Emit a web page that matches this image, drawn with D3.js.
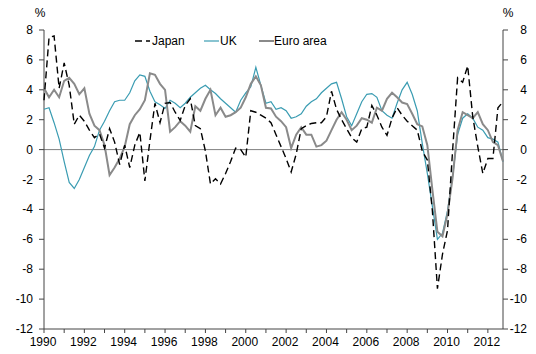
<!DOCTYPE html>
<html><head><meta charset="utf-8">
<script src="https://cdn.jsdelivr.net/npm/d3@7"></script>
<style>body{margin:0;background:#fff}svg{display:block;font-family:"Liberation Sans",Arial,sans-serif}</style>
</head><body><svg id="c" width="536" height="354"></svg>
<script>
const startYear = 1990;
const japan = [3.3,7.5,7.6,4.1,5.8,4.3,1.7,2.3,1.9,1.3,0.8,1.05,0.1,1.4,0.5,-1.0,0.3,-1.2,0.3,1.15,
 -2.1,0.6,3.1,1.8,3.1,3.15,2.5,1.95,2.95,3.4,1.6,1.4,-0.1,-2.3,-1.95,-2.3,-1.6,-0.8,0.1,0.0,
 -0.5,2.6,2.5,2.3,2.1,1.8,1.0,0.2,-0.6,-1.5,-0.3,1.4,1.6,1.75,1.8,1.8,2.2,3.9,2.7,2.0,
 1.4,0.8,0.5,1.4,1.5,2.95,2.3,1.5,0.95,2.1,2.8,2.3,1.9,1.6,1.3,-0.1,-0.7,-4.1,-9.3,-7.0,
 -5.4,-0.1,4.8,4.5,5.6,2.2,0.2,-1.6,-0.6,-0.6,2.8,3.2];
const uk = [2.7,2.8,1.8,0.7,-0.8,-2.2,-2.6,-2.0,-1.2,-0.4,0.2,1.3,1.9,2.6,3.2,3.3,3.3,3.8,4.6,5.0,
 4.9,3.9,3.2,3.0,2.75,3.3,3.1,2.8,3.1,3.5,3.8,4.1,4.3,4.0,3.75,3.4,3.1,2.8,2.5,3.3,
 3.8,4.2,5.5,4.3,3.1,3.2,2.7,2.8,2.6,2.1,2.2,2.4,2.9,3.2,3.4,3.8,4.1,4.4,4.5,3.4,
 2.2,1.6,2.4,3.2,3.7,3.75,3.5,2.6,2.3,2.1,3.1,4.0,4.5,3.7,2.6,0.4,-1.6,-3.8,-6.0,-5.6,
 -4.1,-1.8,1.0,2.1,2.4,2.1,1.5,1.3,0.8,0.7,0.5,-0.8];
const euro = [4.1,3.5,4.0,3.5,4.6,4.8,4.4,3.7,4.1,2.4,1.6,1.3,0.3,-1.7,-1.2,-0.6,0.2,1.7,2.3,2.7,
 3.3,5.1,5.0,4.4,4.0,1.2,1.5,1.9,1.6,1.2,2.9,2.6,3.4,4.0,2.3,2.8,2.2,2.3,2.5,2.8,
 3.5,4.4,4.9,4.3,2.8,2.75,2.2,1.9,1.5,0.1,1.0,1.5,1.0,1.0,0.2,0.3,0.6,1.3,2.0,2.5,
 2.0,1.3,1.6,2.1,2.0,1.8,2.8,2.6,3.4,3.8,3.5,3.15,3.05,2.4,1.7,1.55,0.3,-2.7,-5.5,-5.8,
 -4.3,-1.9,1.3,2.5,2.3,2.1,2.5,1.7,1.3,0.5,0.3,-0.8];
const yTicks = [-12,-10,-8,-6,-4,-2,0,2,4,6,8];
const xLabels = [1990,1992,1994,1996,1998,2000,2002,2004,2006,2008,2010,2012];
const seriesNames = ["Japan","UK","Euro area"];

const svg = d3.select("#c");
const x = d3.scaleLinear().domain([1990, 2012.75]).range([44, 503]);
const y = d3.scaleLinear().domain([-12, 8]).range([329, 30]);
const t = i => startYear + i * 0.25;
const axisCol = "#444";
const fs = 12;

svg.append("line").attr("x1", x(1990)).attr("x2", x(2012.75)).attr("y1", y(0)).attr("y2", y(0))
  .attr("stroke", "#808080").attr("stroke-width", 1);

const gl = svg.append("g");
gl.append("line").attr("x1",44).attr("x2",44).attr("y1",y(8)).attr("y2",y(-12)).attr("stroke",axisCol);
yTicks.forEach(v=>{
  gl.append("line").attr("x1",39).attr("x2",44).attr("y1",y(v)).attr("y2",y(v)).attr("stroke",axisCol);
  gl.append("text").attr("x",33).attr("y",y(v)+4).attr("text-anchor","end").attr("font-size",fs).attr("fill","#000").text(v);
});
const gr = svg.append("g");
gr.append("line").attr("x1",503).attr("x2",503).attr("y1",y(8)).attr("y2",y(-12)).attr("stroke",axisCol);
yTicks.forEach(v=>{
  gr.append("line").attr("x1",503).attr("x2",508).attr("y1",y(v)).attr("y2",y(v)).attr("stroke",axisCol);
  gr.append("text").attr("x",527).attr("y",y(v)+4).attr("text-anchor","end").attr("font-size",fs).attr("fill","#000").text(v);
});
svg.append("text").attr("x",40).attr("y",17).attr("text-anchor","middle").attr("font-size",fs).text("%");
svg.append("text").attr("x",508).attr("y",17).attr("text-anchor","middle").attr("font-size",fs).text("%");

const gb = svg.append("g");
gb.append("line").attr("x1",44).attr("x2",503).attr("y1",329).attr("y2",329).attr("stroke",axisCol);
d3.range(1990, 2013).forEach(yr=>{
  gb.append("line").attr("x1",x(yr)).attr("x2",x(yr)).attr("y1",329).attr("y2",333).attr("stroke",axisCol);
});
xLabels.forEach(yr=>{
  gb.append("text").attr("x",x(yr)-1).attr("y",346).attr("text-anchor","middle").attr("font-size",fs).text(yr);
});

const line = d3.line().x((d,i)=>x(t(i))).y(d=>y(d));
svg.append("path").datum(uk).attr("d",line).attr("fill","none").attr("stroke","#3a9cb2").attr("stroke-width",1.2);
svg.append("path").datum(euro).attr("d",line).attr("fill","none").attr("stroke","#8a8a8a").attr("stroke-width",2);
svg.append("path").datum(japan).attr("d",line).attr("fill","none").attr("stroke","#000").attr("stroke-width",1.4).attr("stroke-dasharray","7,4");

const lg = svg.append("g");
const leg = [
  {name: seriesNames[0], x: 135, col: "#000", w: 1.4, dash: "7,4", tx: 152},
  {name: seriesNames[1], x: 204, col: "#3a9cb2", w: 1.2, dash: null, tx: 220},
  {name: seriesNames[2], x: 259, col: "#8a8a8a", w: 2, dash: null, tx: 274}
];
leg.forEach(l=>{
  const ln = lg.append("line").attr("x1",l.x).attr("x2",l.x+15).attr("y1",41).attr("y2",41).attr("stroke",l.col).attr("stroke-width",l.w);
  if (l.dash) ln.attr("stroke-dasharray", l.dash);
  lg.append("text").attr("x",l.tx).attr("y",45).attr("font-size",fs).text(l.name);
});
</script></body></html>
